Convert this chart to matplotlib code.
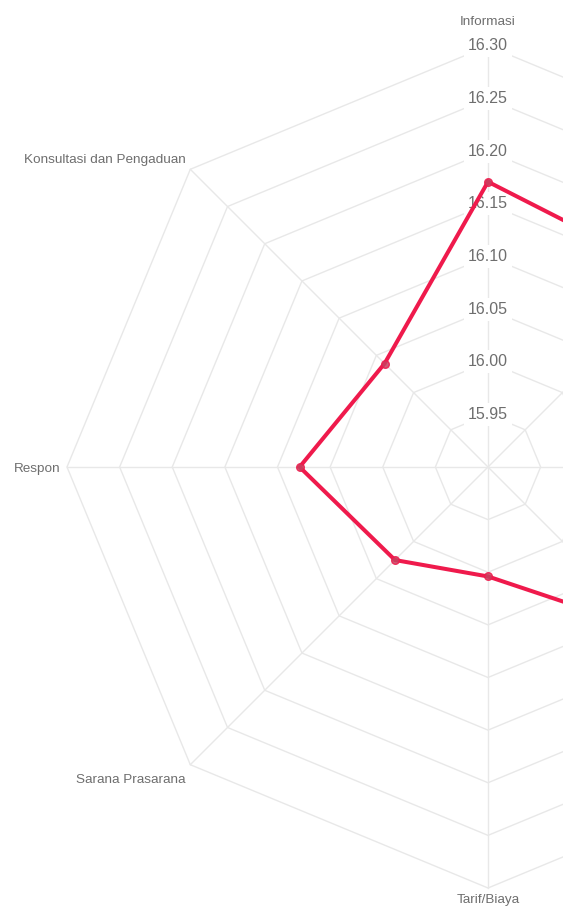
import numpy as np
import matplotlib.pyplot as plt

# data: radar chart (axes clockwise from top)
labels = ['Informasi', 'Persyaratan', 'Prosedur', 'Waktu Pelayanan',
          'Tarif/Biaya', 'Sarana Prasarana', 'Respon', 'Konsultasi dan Pengaduan']
values = [16.171, 16.154, 16.13, 16.121, 16.004, 16.025, 16.079, 16.039]
ticks = [15.95, 16.00, 16.05, 16.10, 16.15, 16.20, 16.25, 16.30]
r_min, r_max = 15.90, 16.30

plt.rcParams['font.family'] = ['Liberation Sans', 'DejaVu Sans']

grid_color = '#e8e8e8'
text_color = '#6e6e6e'
line_color = '#ef1a4c'

fig = plt.figure(figsize=(5.63, 9.08), dpi=100)
# centre at (488, 467) px, radius 421 px -> chart runs past the right edge
ax = fig.add_axes([67 / 563, 20 / 908, 842 / 563, 842 / 908], projection='polar')
ax.set_theta_zero_location('N')
ax.set_theta_direction(-1)
ax.set_ylim(r_min, r_max)
ax.set_axis_off()

n = len(labels)
theta = np.linspace(0, 2 * np.pi, n, endpoint=False)
theta_closed = np.append(theta, theta[0])

# polygon grid rings
for t in ticks:
    ax.plot(theta_closed, [t] * (n + 1), color=grid_color, lw=1.0, zorder=1, clip_on=False)
# spokes
for th in theta:
    ax.plot([th, th], [r_min, r_max], color=grid_color, lw=1.0, zorder=1, clip_on=False)

# tick labels with white backdrop
for t in ticks:
    ax.text(0, t, f'{t:.2f}', ha='center', va='center', fontsize=11.5, color=text_color,
            zorder=2, bbox=dict(boxstyle='square,pad=0.25', fc='white', ec='none'))

# point labels (the right-hand ones fall outside the cropped picture, so skip them)
offsets = {0: (0, 21, 'center', 'baseline'),
           4: (0, -6, 'center', 'top'),
           5: (-5, -9, 'right', 'top'),
           6: (-7, 0, 'right', 'center_baseline'),
           7: (-5, 6, 'right', 'baseline')}
for i, lab in enumerate(labels):
    if i not in offsets:
        continue
    dx, dy, ha, va = offsets[i]
    ax.annotate(lab, xy=(theta[i], r_max), xytext=(dx, dy), textcoords='offset pixels',
                ha=ha, va=va, fontsize=9.7, color=text_color, annotation_clip=False)

# data line
vals_closed = values + values[:1]
ax.plot(theta_closed, vals_closed, color=line_color, lw=2.9, zorder=3, clip_on=False,
        solid_joinstyle='miter')
ax.plot(theta, values, 'o', ms=5.5, mfc='#c8405f', mec=line_color, mew=1.0,
        alpha=0.85, zorder=4, clip_on=False)

fig.savefig('out.png', dpi=100, facecolor='white')
